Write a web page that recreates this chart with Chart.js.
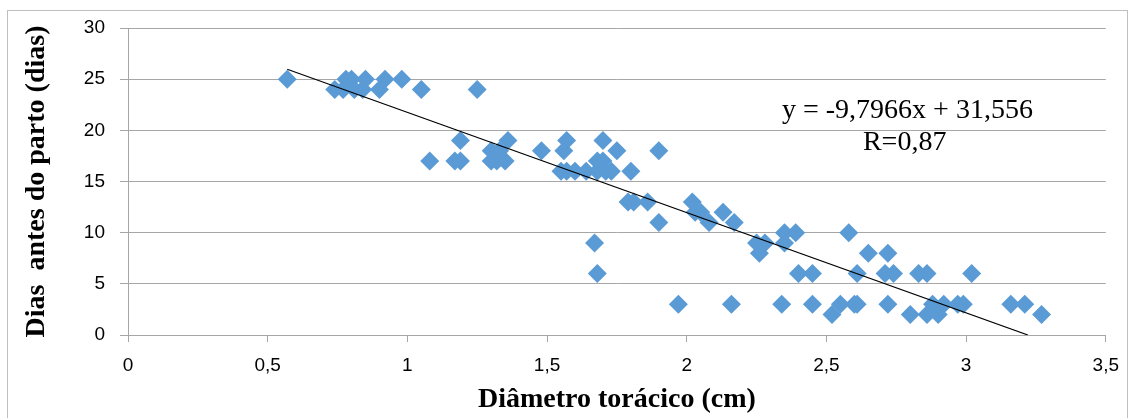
<!DOCTYPE html>
<html>
<head>
<meta charset="utf-8">
<script src="https://cdn.jsdelivr.net/npm/chart.js@4"></script>
<style>
    body { margin: 0; background: #fff; }
    #caixa { position: relative; width: 1131px; height: 418px; }
</style>
</head>
<body>
<div id="caixa"><canvas id="grafico"></canvas></div>
<script>
// Dados (diâmetro torácico x dias antes do parto)
const diametro = [0.57, 0.78, 0.80, 0.85, 0.92, 0.98,
    0.74, 0.77, 0.81, 0.84, 0.90, 1.05, 1.25,
    1.19, 1.36, 1.57, 1.70,
    1.30, 1.33, 1.48, 1.56, 1.75, 1.90,
    1.08, 1.17, 1.19, 1.30, 1.32, 1.35, 1.68, 1.70,
    1.55, 1.57, 1.60, 1.64, 1.68, 1.71, 1.73, 1.80,
    1.79, 1.81, 1.86, 2.02,
    2.03, 2.05, 2.13,
    1.90, 2.08, 2.17,
    2.35, 2.39, 2.58,
    1.67, 2.25, 2.28, 2.35,
    2.26, 2.65, 2.72,
    1.68, 2.40, 2.45, 2.61, 2.71, 2.74, 2.83, 2.86, 3.02,
    1.97, 2.16, 2.34, 2.45, 2.55, 2.60, 2.61, 2.72, 2.88, 2.92, 2.97, 2.99, 3.16, 3.21,
    2.52, 2.80, 2.86, 2.90, 3.27];
const dias = [25, 25, 25, 25, 25, 25,
    24, 24, 24, 24, 24, 24, 24,
    19, 19, 19, 19,
    18, 18, 18, 18, 18, 18,
    17, 17, 17, 17, 17, 17, 17, 17,
    16, 16, 16, 16, 16, 16, 16, 16,
    13, 13, 13, 13,
    12, 12, 12,
    11, 11, 11,
    10, 10, 10,
    9, 9, 9, 9,
    8, 8, 8,
    6, 6, 6, 6, 6, 6, 6, 6, 6,
    3, 3, 3, 3, 3, 3, 3, 3, 3, 3, 3, 3, 3, 3,
    2, 2, 2, 2, 2];

// Linha de tendência: y = -9,7966x + 31,556
const inclinacao = -9.7966;
const intercepto = 31.556;
const xInicio = 0.57;
const xFim = -intercepto / inclinacao; // onde a reta corta o zero

const textoEquacao = "y = -9,7966x + 31,556";
const textoR = "R=0,87";

const cinza = "#a6a6a6";

// Plugin para a moldura e o texto da equação
const plugExtras = {
    id: "extras",
    beforeDraw(chart) {
        const ctx = chart.ctx;
        ctx.save();
        ctx.strokeStyle = "#bfbfbf";
        ctx.lineWidth = 1;
        ctx.strokeRect(7.5, 10.5, 1120, 430);
        ctx.restore();
    },
    afterDatasetsDraw(chart) {
        const ctx = chart.ctx;
        const x = chart.scales.x, y = chart.scales.y;
        ctx.save();
        ctx.fillStyle = "#000";
        ctx.font = "28px 'Liberation Serif'";
        ctx.textAlign = "center";
        ctx.textBaseline = "middle";
        ctx.fillText(textoEquacao, x.getPixelForValue(2.79), y.getPixelForValue(21.9));
        ctx.fillText(textoR, x.getPixelForValue(2.78), y.getPixelForValue(18.8));
        ctx.restore();
    }
};

function criarGraficoDispersao(id) {
    const pontos = diametro.map((v, i) => ({ x: v, y: dias[i] }));
    const tendencia = [xInicio, xFim].map(v => ({ x: v, y: inclinacao * v + intercepto }));

    return new Chart(id, {
        type: "scatter",
        data: {
            datasets: [{
                data: pontos,
                pointStyle: "rectRot",
                pointRadius: 9.5,
                pointHoverRadius: 9.5,
                backgroundColor: "#5b9bd5",
                borderColor: "#5b9bd5",
                borderWidth: 0,
                order: 2
            }, {
                type: "line",
                data: tendencia,
                borderColor: "#000",
                borderWidth: 1.2,
                pointRadius: 0,
                fill: false,
                order: 1
            }]
        },
        options: {
            responsive: true,
            maintainAspectRatio: false,
            animation: false,
            layout: { padding: { top: 28, right: 23, left: 0, bottom: 0 } },
            plugins: {
                legend: { display: false },
                tooltip: { enabled: false }
            },
            scales: {
                x: {
                    type: "linear",
                    min: 0,
                    max: 3.5,
                    afterFit: s => { s.height = 83; },
                    ticks: {
                        stepSize: 0.5,
                        padding: 12,
                        color: "#000",
                        font: { family: "'Liberation Sans'", size: 19 },
                        callback: v => String(v).replace(".", ",")
                    },
                    grid: { drawOnChartArea: false, tickLength: 7, tickColor: cinza },
                    border: { color: cinza },
                    title: {
                        display: true,
                        text: "Diâmetro torácico (cm)",
                        color: "#000",
                        font: { family: "'Liberation Serif'", size: 28, weight: "bold" },
                        padding: { top: 0, bottom: 1 }
                    }
                },
                y: {
                    min: 0,
                    max: 30,
                    afterFit: s => { s.width = 128; },
                    ticks: {
                        stepSize: 5,
                        padding: 15,
                        color: "#000",
                        font: { family: "'Liberation Sans'", size: 19 }
                    },
                    grid: { color: cinza, tickLength: 8, tickColor: cinza },
                    border: { color: cinza },
                    title: {
                        display: true,
                        text: "Dias  antes do parto (dias)",
                        color: "#000",
                        font: { family: "'Liberation Serif'", size: 28, weight: "bold" },
                        padding: { top: 20, bottom: 0 }
                    }
                }
            }
        },
        plugins: [plugExtras]
    });
}

criarGraficoDispersao("grafico");
</script>
</body>
</html>
